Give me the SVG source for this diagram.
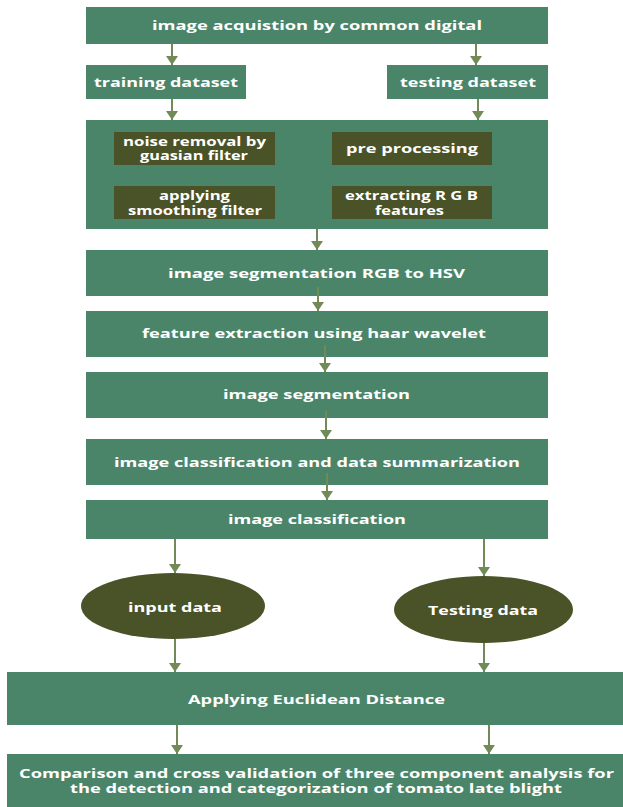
<svg xmlns="http://www.w3.org/2000/svg" width="623" height="807" viewBox="0 0 623 807">
<defs>
<marker id="ah" markerUnits="userSpaceOnUse" markerWidth="9" markerHeight="12" refX="9" refY="6" orient="auto" viewBox="0 0 9 12">
<path d="M0,0 L9,6 L0,12 Z" fill="#718A57"/>
</marker>
<style>
.box{fill:#4A856A}
.dark{fill:#4A5228}
.t{font-family:"Open Sans","Liberation Sans",sans-serif;font-weight:700;font-size:13px;fill:#FFFFFF;text-anchor:middle;dominant-baseline:central}
.s{font-size:11.5px}
.c line{stroke:#718A57;stroke-width:2;marker-end:url(#ah)}
</style>
</defs>
<rect width="623" height="807" fill="#FFFFFF"/>

<g id="n-acq">
<rect class="box" x="86" y="7" width="462" height="37"/>
<text class="t" x="317" y="25" textLength="330" lengthAdjust="spacingAndGlyphs">image acquistion by common digital</text>
</g>
<g id="n-train">
<rect class="box" x="86" y="65" width="160" height="34"/>
<text class="t" x="166" y="82" textLength="144" lengthAdjust="spacingAndGlyphs">training dataset</text>
</g>
<g id="n-test">
<rect class="box" x="387" y="65" width="161" height="34"/>
<text class="t" x="468" y="82" textLength="136" lengthAdjust="spacingAndGlyphs">testing dataset</text>
</g>
<g id="n-pre-group">
<rect class="box" x="86" y="120" width="462" height="109"/>
</g>
<g id="n-noise">
<rect class="dark" x="114" y="132" width="161" height="33"/>
<text class="t s" x="194.5" y="141" textLength="143" lengthAdjust="spacingAndGlyphs">noise removal by</text>
<text class="t s" x="194" y="155.5" textLength="108" lengthAdjust="spacingAndGlyphs">guasian filter</text>
</g>
<g id="n-preproc">
<rect class="dark" x="332" y="132" width="160" height="33"/>
<text class="t" x="412" y="148" textLength="132" lengthAdjust="spacingAndGlyphs">pre processing</text>
</g>
<g id="n-smooth">
<rect class="dark" x="114" y="186" width="161" height="33"/>
<text class="t s" x="194.5" y="195" textLength="71" lengthAdjust="spacingAndGlyphs">applying</text>
<text class="t s" x="195" y="210" textLength="134" lengthAdjust="spacingAndGlyphs">smoothing filter</text>
</g>
<g id="n-rgb">
<rect class="dark" x="332" y="186" width="160" height="33"/>
<text class="t s" x="411.5" y="195" textLength="133" lengthAdjust="spacingAndGlyphs">extracting R G B</text>
<text class="t s" x="409.5" y="210" textLength="69" lengthAdjust="spacingAndGlyphs">features</text>
</g>
<g id="n-hsv">
<rect class="box" x="86" y="250" width="462" height="46"/>
<text class="t" x="316.5" y="273" textLength="297" lengthAdjust="spacingAndGlyphs">image segmentation RGB to HSV</text>
</g>
<g id="n-haar">
<rect class="box" x="86" y="311" width="462" height="46"/>
<text class="t" x="314" y="333" textLength="344" lengthAdjust="spacingAndGlyphs">feature extraction using haar wavelet</text>
</g>
<g id="n-seg">
<rect class="box" x="86" y="372" width="462" height="46"/>
<text class="t" x="316.5" y="394" textLength="187" lengthAdjust="spacingAndGlyphs">image segmentation</text>
</g>
<g id="n-summ">
<rect class="box" x="86" y="439" width="462" height="46"/>
<text class="t" x="317" y="462" textLength="406" lengthAdjust="spacingAndGlyphs">image classification and data summarization</text>
</g>
<g id="n-class">
<rect class="box" x="86" y="500" width="462" height="39"/>
<text class="t" x="317" y="519" textLength="178" lengthAdjust="spacingAndGlyphs">image classification</text>
</g>
<g id="n-input">
<ellipse class="dark" cx="173" cy="606" rx="92" ry="33"/>
<text class="t" x="175" y="607" textLength="94" lengthAdjust="spacingAndGlyphs">input data</text>
</g>
<g id="n-testing">
<ellipse class="dark" cx="483.5" cy="609.5" rx="89.5" ry="33.5"/>
<text class="t" x="483" y="610" textLength="110" lengthAdjust="spacingAndGlyphs">Testing data</text>
</g>
<g id="n-eucl">
<rect class="box" x="7" y="672" width="616" height="53"/>
<text class="t" x="316.5" y="699" textLength="257" lengthAdjust="spacingAndGlyphs">Applying Euclidean Distance</text>
</g>
<g id="n-final">
<rect class="box" x="7" y="754" width="616" height="53"/>
<text class="t s" x="316.5" y="773" textLength="595" lengthAdjust="spacingAndGlyphs">Comparison and cross validation of three component analysis for</text>
<text class="t s" x="316" y="788" textLength="492" lengthAdjust="spacingAndGlyphs">the detection and categorization of tomato late blight</text>
</g>

<g id="connectors" class="c">
<line x1="172" y1="44" x2="172" y2="65"/>
<line x1="476" y1="44" x2="476" y2="65"/>
<line x1="172" y1="99" x2="172" y2="120"/>
<line x1="478" y1="99" x2="478" y2="120"/>
<line x1="317" y1="229" x2="317" y2="250"/>
<line x1="318" y1="287" x2="318" y2="311"/>
<line x1="325" y1="345" x2="325" y2="372"/>
<line x1="326" y1="411" x2="326" y2="439"/>
<line x1="327" y1="473" x2="327" y2="500"/>
<line x1="175" y1="539" x2="175" y2="573"/>
<line x1="484" y1="539" x2="484" y2="576"/>
<line x1="175" y1="639" x2="175" y2="672"/>
<line x1="484" y1="643" x2="484" y2="672"/>
<line x1="177" y1="725" x2="177" y2="754"/>
<line x1="489" y1="725" x2="489" y2="754"/>
</g>
</svg>
